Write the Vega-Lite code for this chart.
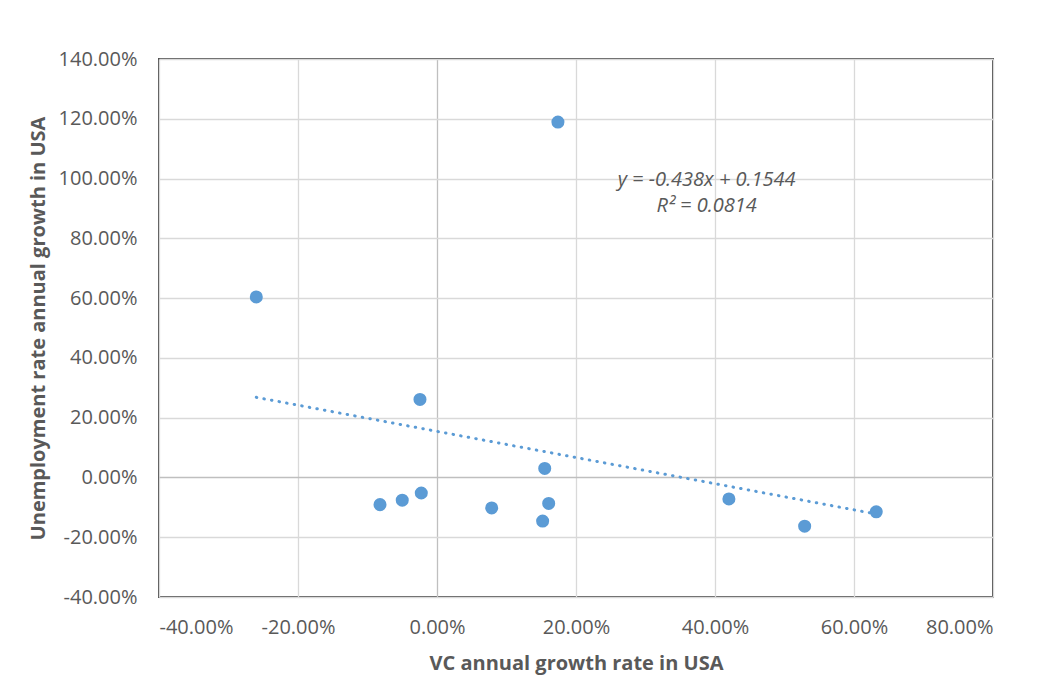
{
  "$schema": "https://vega.github.io/schema/vega-lite/v6.json",
  "width": 834,
  "height": 538,
  "autosize": "none",
  "padding": {"left": 159, "top": 59, "right": 59, "bottom": 84},
  "background": "white",
  "config": {
    "font": "Open Sans",
    "view": {"stroke": "#505050", "strokeWidth": 2},
    "axis": {
      "labelFont": "Open Sans",
      "labelFontSize": 20,
      "labelColor": "#595959",
      "titleFont": "Open Sans",
      "titleFontWeight": "bold",
      "titleFontSize": 20,
      "titleColor": "#595959",
      "tickSize": 0,
      "domain": false,
      "gridWidth": 1.3
    }
  },
  "datasets": {
    "points": [
      {"vc": -0.260, "unemp": 0.604},
      {"vc": 0.174, "unemp": 1.189},
      {"vc": -0.0245, "unemp": 0.261},
      {"vc": 0.155, "unemp": 0.030},
      {"vc": -0.082, "unemp": -0.091},
      {"vc": -0.050, "unemp": -0.076},
      {"vc": -0.0226, "unemp": -0.052},
      {"vc": 0.0787, "unemp": -0.102},
      {"vc": 0.1607, "unemp": -0.087},
      {"vc": 0.152, "unemp": -0.146},
      {"vc": 0.420, "unemp": -0.072},
      {"vc": 0.529, "unemp": -0.163},
      {"vc": 0.632, "unemp": -0.115}
    ],
    "trend": [
      {"vc": -0.260, "unemp": 0.268},
      {"vc": 0.632, "unemp": -0.1224}
    ]
  },
  "layer": [
    {
      "data": {"name": "trend"},
      "mark": {"type": "line", "color": "#5b9bd5", "strokeWidth": 3, "strokeDash": [0.5, 7.2], "strokeCap": "round"},
      "encoding": {
        "x": {
          "field": "vc", "type": "quantitative",
          "scale": {"domain": [-0.4, 0.8], "nice": false, "zero": false},
          "axis": {
            "title": "VC annual growth rate in USA",
            "labelExpr": "replace(format(datum.value, '.2%'), '\u2212', '-')",
            "values": [-0.4, -0.2, 0, 0.2, 0.4, 0.6, 0.8],
            "labelPadding": 20,
            "titlePadding": 16,
            "gridColor": {"condition": {"test": "datum.value === 0", "value": "#bfbfbf"}, "value": "#d9d9d9"}
          }
        },
        "y": {
          "field": "unemp", "type": "quantitative",
          "scale": {"domain": [-0.4, 1.4], "nice": false, "zero": false},
          "axis": {
            "title": "Unemployment rate annual growth in USA",
            "labelExpr": "replace(format(datum.value, '.2%'), '\u2212', '-')",
            "values": [-0.4, -0.2, 0, 0.2, 0.4, 0.6, 0.8, 1.0, 1.2, 1.4],
            "labelPadding": 22,
            "titlePadding": 10,
            "gridColor": {"condition": {"test": "datum.value === 0", "value": "#bfbfbf"}, "value": "#d9d9d9"}
          }
        }
      }
    },
    {
      "data": {"name": "points"},
      "mark": {"type": "circle", "color": "#5b9bd5", "size": 170, "opacity": 1},
      "encoding": {
        "x": {"field": "vc", "type": "quantitative"},
        "y": {"field": "unemp", "type": "quantitative"}
      }
    },
    {
      "data": {"values": [{}]},
      "mark": {"type": "text", "font": "Open Sans", "fontStyle": "italic", "fontSize": 20, "color": "#595959", "align": "center", "baseline": "alphabetic", "lineHeight": 26},
      "encoding": {
        "x": {"datum": 0.388, "type": "quantitative"},
        "y": {"datum": 0.975, "type": "quantitative"},
        "text": {"value": ["y = -0.438x + 0.1544", "R² = 0.0814"]}
      }
    }
  ]
}
